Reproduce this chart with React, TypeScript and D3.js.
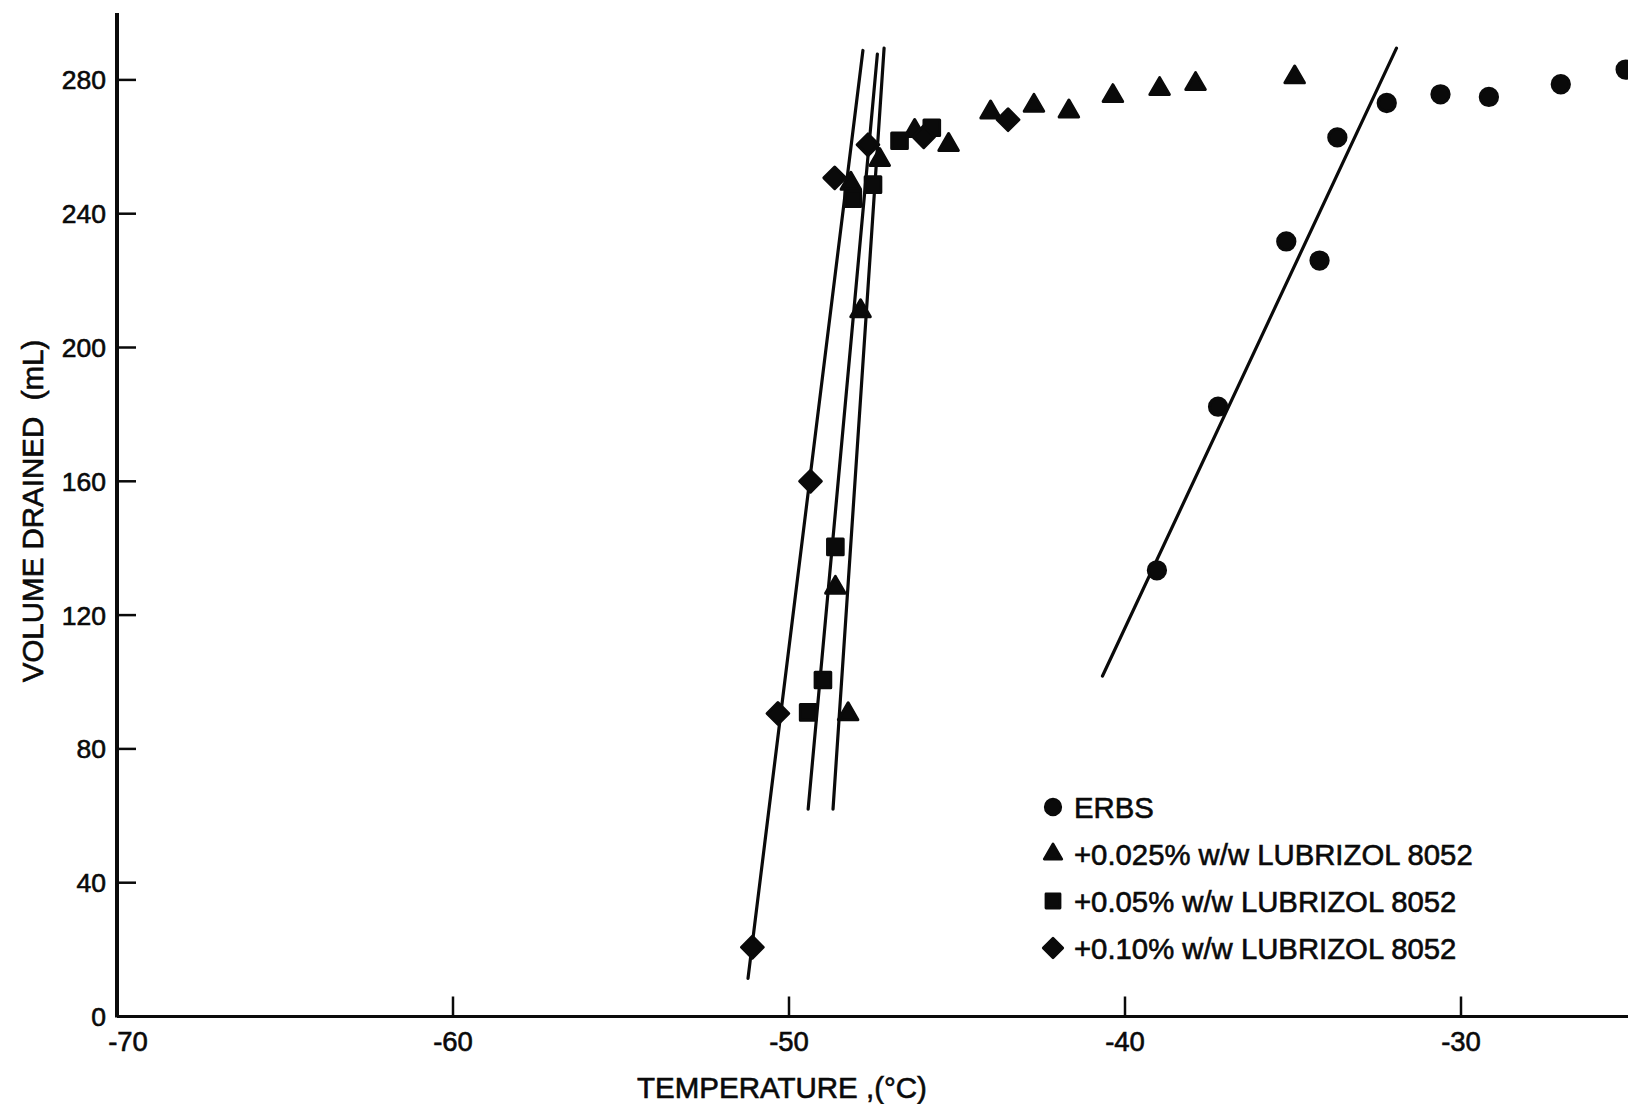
import React from "react";
import * as d3 from "d3";

// ---- Data ----
const xTicks = [-70, -60, -50, -40, -30];
const yTicks = [0, 40, 80, 120, 160, 200, 240, 280];

const erbsTemp = [-39.05, -37.23, -35.2, -34.21, -33.68, -32.21, -30.61, -29.17, -27.03, -25.1];
const erbsVol = [133.4, 182.3, 231.7, 226.0, 262.8, 273.1, 275.7, 274.9, 278.7, 283.1];

const l025Temp = [-48.24, -48.62, -47.87, -48.16, -47.3, -46.26, -45.25, -44.0, -42.71, -41.67, -40.36, -38.97, -37.9, -34.95];
const l025Vol = [90.4, 128.2, 210.9, 249.0, 256.1, 264.8, 260.6, 270.3, 272.3, 270.6, 275.2, 277.3, 278.8, 280.8];

const l05Temp = [-49.43, -48.99, -48.62, -48.1, -47.5, -46.71, -45.75];
const l05Vol = [90.9, 100.6, 140.4, 244.5, 248.7, 261.8, 265.7];

const l10Temp = [-51.09, -50.33, -49.36, -48.64, -47.65, -45.99, -43.48];
const l10Vol = [20.7, 90.6, 160.0, 250.7, 260.6, 263.0, 268.1];

// fitted straight lines: [T start, T end], [V start, V end]
const erbsFitT = [-40.67, -31.92];
const erbsFitV = [101.8, 289.5];
const l025FitT = [-48.69, -47.17];
const l025FitV = [62.0, 289.5];
const l05FitT = [-49.43, -47.37];
const l05FitV = [62.0, 287.7];
const l10FitT = [-51.22, -47.8];
const l10FitV = [11.4, 288.8];

const legendLabels = [
  "ERBS",
  "+0.025% w/w LUBRIZOL 8052",
  "+0.05% w/w LUBRIZOL 8052",
  "+0.10% w/w LUBRIZOL 8052",
];

const xTitle = "TEMPERATURE ,(°C)";
const yTitle = "VOLUME DRAINED  (mL)";

// ---- Layout ----
const W = 1628;
const H = 1104;
const FONT = "'Liberation Sans', Arial, Helvetica, sans-serif";
const INK = "#0a0a0a";
const TEXT_STROKE = 0.6;

const x = d3.scaleLinear().domain([-70, -25]).range([117, 1629]);
const y = d3.scaleLinear().domain([0, 300]).range([1016.5, 13]);

type Shape = "circle" | "triangle" | "square" | "diamond";

const symbolPath: Record<Shape, string> = {
  circle: d3.symbol(d3.symbolCircle, 235)() as string,
  triangle: d3.symbol(d3.symbolTriangle, 165)() as string,
  square: d3.symbol(d3.symbolSquare, 245)() as string,
  diamond: d3.symbol(d3.symbolSquare, 235)() as string,
};

function Marker({ cx, cy, shape, scale = 1 }: { cx: number; cy: number; shape: Shape; scale?: number }) {
  const rot = shape === "diamond" ? " rotate(45)" : "";
  return (
    <path
      d={symbolPath[shape]}
      transform={`translate(${cx},${cy})${rot} scale(${scale})`}
      fill={INK}
      stroke={INK}
      strokeWidth={3}
      strokeLinejoin="round"
    />
  );
}

const series: { t: number[]; v: number[]; fitT: number[]; fitV: number[]; shape: Shape }[] = [
  { t: erbsTemp, v: erbsVol, fitT: erbsFitT, fitV: erbsFitV, shape: "circle" },
  { t: l025Temp, v: l025Vol, fitT: l025FitT, fitV: l025FitV, shape: "triangle" },
  { t: l05Temp, v: l05Vol, fitT: l05FitT, fitV: l05FitV, shape: "square" },
  { t: l10Temp, v: l10Vol, fitT: l10FitT, fitV: l10FitV, shape: "diamond" },
];

const lineGen = d3
  .line<[number, number]>()
  .x((d) => x(d[0]))
  .y((d) => y(d[1]));

const textProps = {
  fontFamily: FONT,
  fill: INK,
  stroke: INK,
  strokeWidth: TEXT_STROKE,
};

export default function App() {
  const legendX = 1053;
  const legendY0 = 807;
  const legendDy = 47;
  return (
    <svg
      width={W}
      height={H}
      viewBox={`0 0 ${W} ${H}`}
      style={{ position: "absolute", left: 0, top: 0, display: "block", background: "#fff" }}
    >
      <rect x={0} y={0} width={W} height={H} fill="#fff" />
      {/* axes */}
      <line x1={x(-70)} x2={x(-70)} y1={y(0) + 1} y2={y(300)} stroke={INK} strokeWidth={4} />
      <line x1={x(-70)} x2={W} y1={y(0)} y2={y(0)} stroke={INK} strokeWidth={3} />
      {yTicks.filter((d) => d > 0).map((d) => (
        <line key={"yt" + d} x1={x(-70)} x2={x(-70) + 19} y1={y(d)} y2={y(d)} stroke={INK} strokeWidth={2.5} />
      ))}
      {xTicks.filter((d) => d > -70).map((d) => (
        <line key={"xt" + d} x1={x(d)} x2={x(d)} y1={y(0)} y2={y(0) - 20} stroke={INK} strokeWidth={2.5} />
      ))}
      {yTicks.map((d) => (
        <text key={"yl" + d} x={106} y={y(d)} dy="0.36em" textAnchor="end" fontSize={26.5} {...textProps}>
          {d}
        </text>
      ))}
      {xTicks.map((d, i) => (
        <text key={"xl" + d} x={x(d) + (i === 0 ? 11 : 0)} y={1051} textAnchor="middle" fontSize={27.5} {...textProps}>
          {d}
        </text>
      ))}
      <text x={782} y={1098} textAnchor="middle" fontSize={29.5} {...textProps}>
        {xTitle}
      </text>
      <text
        transform="translate(43,511) rotate(-90)"
        textAnchor="middle"
        fontSize={29.5}
        {...textProps}
        style={{ whiteSpace: "pre" }}
      >
        {yTitle}
      </text>

      {/* fitted lines */}
      {series.map((s, i) => (
        <path
          key={"fit" + i}
          d={lineGen([
            [s.fitT[0], s.fitV[0]],
            [s.fitT[1], s.fitV[1]],
          ]) as string}
          fill="none"
          stroke={INK}
          strokeWidth={3.2}
          strokeLinecap="round"
        />
      ))}

      {/* markers */}
      {series.map((s, i) => (
        <g key={"pts" + i}>
          {s.t.map((t, j) => (
            <Marker key={j} cx={x(t)} cy={y(s.v[j])} shape={s.shape} />
          ))}
        </g>
      ))}

      {/* legend */}
      {legendLabels.map((lab, i) => (
        <g key={"lg" + i}>
          <Marker cx={legendX} cy={legendY0 + i * legendDy} shape={series[i].shape} scale={0.9} />
          <text
            x={legendX + 21}
            y={legendY0 + i * legendDy}
            dy="0.36em"
            fontSize={29.3}
            {...textProps}
          >
            {lab}
          </text>
        </g>
      ))}
    </svg>
  );
}
